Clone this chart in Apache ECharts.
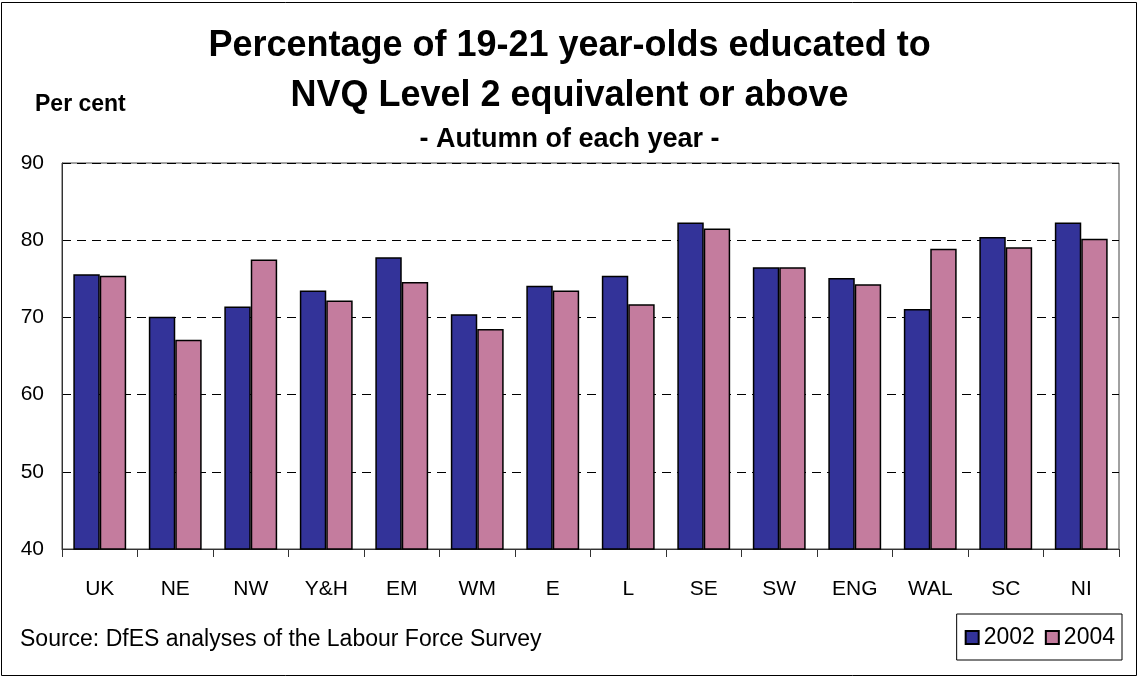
<!DOCTYPE html>
<html>
<head>
<meta charset="utf-8">
<script src="https://cdn.jsdelivr.net/npm/echarts@6/dist/echarts.min.js"></script>
<style>
  html, body { margin: 0; padding: 0; background: #fff; }
  #chart { width: 1139px; height: 678px; }
</style>
</head>
<body>
<div id="chart"></div>
<script>
// regions
const categories = ['UK', 'NE', 'NW', 'Y&H', 'EM', 'WM', 'E', 'L', 'SE', 'SW', 'ENG', 'WAL', 'SC', 'NI']
// per cent
const v2002 = [75.6, 70.1, 71.4, 73.5, 77.8, 70.4, 74.1, 75.4, 82.3, 76.5, 75.1, 71.1, 80.4, 82.3]
const v2004 = [75.4, 67.1, 77.5, 72.2, 74.6, 68.5, 73.5, 71.7, 81.5, 76.5, 74.3, 78.9, 79.1, 80.2]
const yTicks = [40, 50, 60, 70, 80, 90]

const font = 'Arial, "Liberation Sans", sans-serif'
const chart = echarts.init(document.getElementById('chart'))

chart.setOption({
  animation: false,
  textStyle: { fontFamily: font, color: '#000' },
  title: [
    {
      text: 'Percentage of 19-21 year-olds educated to\nNVQ Level 2 equivalent or above',
      left: 'center',
      top: 16,
      textStyle: { fontSize: 36, fontWeight: 'bold', lineHeight: 50, color: '#000', fontFamily: font }
    },
    {
      text: '- Autumn of each year -',
      left: 'center',
      top: 121,
      textStyle: { fontSize: 27, fontWeight: 'bold', color: '#000', fontFamily: font }
    },
    {
      text: 'Per cent',
      left: 30,
      top: 88,
      textStyle: { fontSize: 23, fontWeight: 'bold', color: '#000', fontFamily: font }
    },
    {
      text: 'Source: DfES analyses of the Labour Force Survey',
      left: 15,
      top: 623,
      textStyle: { fontSize: 23, fontWeight: 'normal', color: '#000', fontFamily: font }
    }
  ],
  graphic: [{
    type: 'rect',
    shape: { x: 1.5, y: 2.5, width: 1135, height: 673 },
    style: { fill: 'none', stroke: '#000', lineWidth: 1 },
    silent: true
  }],
  legend: {
    right: 17,
    top: 614,
    orient: 'horizontal',
    padding: [12, 7, 11, 8],
    borderColor: '#000',
    borderWidth: 1,
    itemWidth: 13,
    itemHeight: 13,
    itemGap: 10,
    icon: 'rect',
    textStyle: { fontSize: 23, color: '#000', padding: [0, 0, 0, 0] },
    data: ['2002', '2004']
  },
  grid: {
    left: 62,
    right: 20,
    top: 163,
    bottom: 129,
    show: true,
    borderColor: '#444',
    borderWidth: 1
  },
  xAxis: {
    type: 'category',
    data: categories,
    axisLine: { lineStyle: { color: '#333', width: 1 } },
    axisTick: { show: true, length: 8, lineStyle: { color: '#333' } },
    axisLabel: { fontSize: 21, color: '#000', margin: 30 }
  },
  yAxis: {
    type: 'value',
    min: yTicks[0],
    max: yTicks[yTicks.length - 1],
    interval: 10,
    axisLine: { show: true, lineStyle: { color: '#333', width: 1 } },
    axisTick: { show: false },
    axisLabel: { fontSize: 21, color: '#000', margin: 18 },
    splitLine: { lineStyle: { color: '#000', type: [9, 6], width: 1 } }
  },
  series: [
    {
      name: '2002',
      type: 'bar',
      data: v2002,
      barGap: '0%',
      barCategoryGap: '30%',
      itemStyle: { color: '#333399', borderColor: '#000', borderWidth: 1.5 }
    },
    {
      name: '2004',
      type: 'bar',
      data: v2004,
      itemStyle: { color: '#c47c9e', borderColor: '#000', borderWidth: 1.5 }
    }
  ]
})
</script>
</body>
</html>
